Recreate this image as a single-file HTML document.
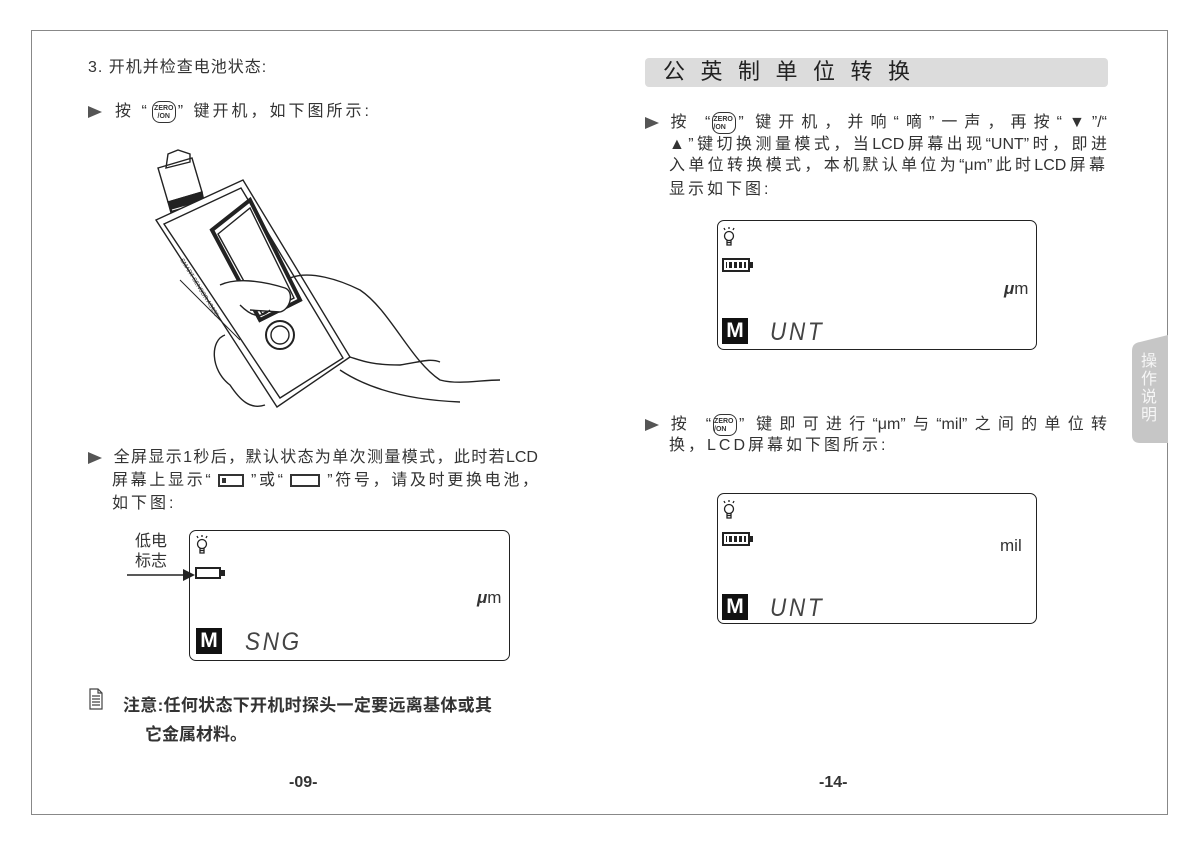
<!DOCTYPE html>
<html><head><meta charset="utf-8">
<style>
body{margin:0;width:1199px;height:845px;background:#fff;position:relative;overflow:hidden;font-family:"Liberation Sans","Noto Sans CJK SC",sans-serif;color:#333;}
.a{position:absolute;white-space:nowrap;line-height:1;}
.t15{font-size:16px;letter-spacing:3px;}
.j{position:absolute;font-size:16px;line-height:1;white-space:nowrap;text-align:justify;text-align-last:justify;}
.zero{display:inline-block;width:24px;height:22px;border:1.3px solid #333;border-radius:8px;font-size:7px;line-height:8px;text-align:center;vertical-align:middle;padding-top:3px;box-sizing:border-box;font-weight:bold;margin:0 2px;letter-spacing:0;}
.lcd{position:absolute;border:1.3px solid #222;border-radius:7px;box-sizing:border-box;}
.M{position:absolute;background:#111;color:#fff;font-weight:bold;font-size:21px;width:26px;height:26px;line-height:26px;text-align:center;}
.seg{position:absolute;font-style:italic;font-size:25px;letter-spacing:3px;color:#444;font-weight:normal;transform:scaleX(0.9);transform-origin:left;}
.arrow{display:inline-block;width:0;height:0;border-top:6px solid transparent;border-bottom:6px solid transparent;border-left:14px solid #555;vertical-align:middle;}
</style></head><body>
<div style="position:absolute;left:31px;top:30px;width:1137px;height:785px;border:1.5px solid #888;box-sizing:border-box;"></div>
<svg class="a" style="left:1130px;top:333px" width="40" height="112"><path d="M2 18 Q2 10 10 9 L38 2 L38 110 L10 110 Q2 110 2 102 Z" fill="#c6c6c6"/></svg>
<div class="a" style="left:1141px;top:353px;font-size:16px;line-height:18px;color:#f6f6f6;white-space:normal;width:18px;">操<br>作<br>说<br>明</div>

<div class="a" style="left:88px;top:60px;font-size:16px;letter-spacing:1px;">3. 开机并检查电池状态:</div>
<div class="a" style="left:88px;top:101px;font-size:16px;letter-spacing:3px;"><span class="arrow"></span><span style="margin-left:13px">按 “</span><span class="zero">ZERO<br>/ON</span><span>” 键开机，如下图所示:</span></div>

<svg class="a" style="left:140px;top:140px" width="360" height="290" fill="none" stroke="#222" stroke-width="1.4">
 <g>
  <path d="M28 14 L38 10 L50 14 L50 22 L26 28 Z" fill="#fff"/>
  <path d="M18 28 L52 18 L62 52 L28 62 Z"/>
  <path d="M28 62 L62 52 L70 90 L38 98 Z" fill="#222"/>
  <path d="M32 70 L64 61 M34 78 L66 69 M36 86 L68 77" stroke="#fff" stroke-width="1"/>
  <path d="M38 98 L70 90 L74 102 L40 110 Z"/>
  <path d="M16 80 L103 40 L210 217 L137 267 Z" fill="#fff"/>
  <path d="M24 84 L101 48 L203 218 L140 258 Z"/>
  <path d="M72 90 L110 60 L160 160 L120 180 Z" stroke-width="4"/>
  <path d="M78 94 L110 68 L154 158 L122 174 Z" fill="#fff"/>
  <path d="M40 140 L100 200" stroke-width="1"/>
  <text x="40" y="120" font-size="6" fill="#333" stroke="none" transform="rotate(58 40 120)">SMART SENSOR AS930</text>
  <circle cx="140" cy="195" r="14" stroke-width="2"/>
  <circle cx="140" cy="195" r="9"/>
 </g>
 <path d="M150 138 C170 130 200 140 220 150 C250 170 270 220 300 240 C320 245 340 240 360 240" />
 <path d="M80 145 C95 138 120 140 145 148 C155 152 150 170 140 172 L110 170" fill="#fff"/>
 <path d="M100 165 C110 175 120 180 130 170"/>
 <path d="M85 195 C70 200 70 230 90 245 C100 260 110 270 125 265"/>
 <path d="M210 217 C220 220 230 225 260 225 C280 222 290 218 300 222"/>
 <path d="M200 230 C230 250 270 260 320 262"/>
</svg>

<div class="j" style="left:88px;top:450px;width:450px;"><span class="arrow"></span>&nbsp; 全屏显示1秒后，默认状态为单次测量模式，此时若LCD</div>
<div class="j" style="left:112px;top:473px;width:426px;">屏幕上显示“ <span style="display:inline-block;width:22px;height:9px;border:2px solid #333;vertical-align:middle;position:relative;"><span style="position:absolute;left:2px;top:2px;width:4px;height:5px;background:#333"></span></span> ”或“ <span style="display:inline-block;width:26px;height:9px;border:2px solid #333;vertical-align:middle;"></span> ”符号，请及时更换电池，</div>
<div class="a t15" style="left:112px;top:496px;">如下图:</div>

<div class="a" style="left:135px;top:534px;font-size:16px;">低电</div>
<div class="a" style="left:135px;top:554px;font-size:16px;">标志</div>
<svg class="a" style="left:125px;top:568px" width="72" height="14"><line x1="2" y1="7" x2="62" y2="7" stroke="#222" stroke-width="1.6"/><path d="M58 1 L70 7 L58 13 Z" fill="#222"/></svg>

<div class="lcd" style="left:189px;top:530px;width:321px;height:131px;"></div>
<svg class="a" style="left:195px;top:534px" width="16" height="22"><g fill="none" stroke="#222" stroke-width="1.3"><circle cx="7" cy="10" r="4.5"/><path d="M5 14 L5 19 L9 19 L9 14 M5 16.5 L9 16.5 M3 4 L2 2 M7 3 L7 1 M11 4 L12 2"/></g></svg>
<div class="a" style="left:195px;top:567px;width:26px;height:12px;border:2px solid #222;box-sizing:border-box;"></div>
<div class="a" style="left:221px;top:570px;width:4px;height:6px;background:#222;"></div>
<div class="a" style="left:477px;top:589px;font-size:17px;"><i style="font-weight:bold">μ</i>m</div>
<div class="M" style="left:196px;top:628px;">M</div>
<div class="seg" style="left:245px;top:628px;">SNG</div>

<svg class="a" style="left:89px;top:688px" width="14" height="22"><g fill="none" stroke="#444" stroke-width="1.2"><path d="M1 1 L9 1 L13 5 L13 21 L1 21 Z M9 1 L9 5 L13 5"/><path d="M3 8 H11 M3 11 H11 M3 14 H11 M3 17 H11"/></g></svg>
<div class="a" style="left:123px;top:697px;font-size:17px;font-weight:bold;letter-spacing:0.3px;">注意:任何状态下开机时探头一定要远离基体或其</div>
<div class="a" style="left:145px;top:726px;font-size:17px;font-weight:bold;">它金属材料。</div>

<div class="a" style="left:289px;top:775px;font-size:16px;font-weight:bold;">-09-</div>

<div class="a" style="left:645px;top:58px;width:463px;height:29px;background:#dcdcdc;border-radius:4px;"></div>
<div class="a" style="left:663px;top:61px;font-size:22px;letter-spacing:15.5px;color:#222;">公英制单位转换</div>

<div class="j" style="left:645px;top:112px;width:462px;"><span class="arrow"></span> 按 “<span class="zero">ZERO<br>/ON</span>” 键开机，并响“嘀”一声，再按“▼”/“</div>
<div class="j" style="left:669px;top:137px;width:438px;">▲”键切换测量模式，当LCD屏幕出现“UNT”时，即进</div>
<div class="j" style="left:669px;top:158px;width:436px;">入单位转换模式，本机默认单位为“μm”此时LCD屏幕</div>
<div class="a t15" style="left:669px;top:182px;">显示如下图:</div>

<div class="lcd" style="left:717px;top:220px;width:320px;height:130px;"></div>
<svg class="a" style="left:722px;top:226px" width="16" height="22"><g fill="none" stroke="#222" stroke-width="1.3"><circle cx="7" cy="10" r="4.5"/><path d="M5 14 L5 19 L9 19 L9 14 M5 16.5 L9 16.5 M3 4 L2 2 M7 3 L7 1 M11 4 L12 2"/></g></svg>
<div class="a" style="left:722px;top:258px;width:28px;height:14px;border:2px solid #222;box-sizing:border-box;background:repeating-linear-gradient(90deg,#222 0 3px,#fff 3px 5px);background-clip:content-box;padding:2px;"></div>
<div class="a" style="left:750px;top:262px;width:3px;height:6px;background:#222;"></div>
<div class="a" style="left:1004px;top:280px;font-size:17px;"><i style="font-weight:bold">μ</i>m</div>
<div class="M" style="left:722px;top:318px;">M</div>
<div class="seg" style="left:770px;top:318px;">UNT</div>

<div class="j" style="left:645px;top:414px;width:462px;"><span class="arrow"></span> 按 “<span class="zero">ZERO<br>/ON</span>” 键即可进行“μm”与“mil”之间的单位转</div>
<div class="a t15" style="left:669px;top:438px;">换，LCD屏幕如下图所示:</div>

<div class="lcd" style="left:717px;top:493px;width:320px;height:131px;"></div>
<svg class="a" style="left:722px;top:499px" width="16" height="22"><g fill="none" stroke="#222" stroke-width="1.3"><circle cx="7" cy="10" r="4.5"/><path d="M5 14 L5 19 L9 19 L9 14 M5 16.5 L9 16.5 M3 4 L2 2 M7 3 L7 1 M11 4 L12 2"/></g></svg>
<div class="a" style="left:722px;top:532px;width:28px;height:14px;border:2px solid #222;box-sizing:border-box;background:repeating-linear-gradient(90deg,#222 0 3px,#fff 3px 5px);background-clip:content-box;padding:2px;"></div>
<div class="a" style="left:750px;top:536px;width:3px;height:6px;background:#222;"></div>
<div class="a" style="left:1000px;top:537px;font-size:17px;">mil</div>
<div class="M" style="left:722px;top:594px;">M</div>
<div class="seg" style="left:770px;top:594px;">UNT</div>

<div class="a" style="left:819px;top:775px;font-size:16px;font-weight:bold;">-14-</div>
</body></html>
